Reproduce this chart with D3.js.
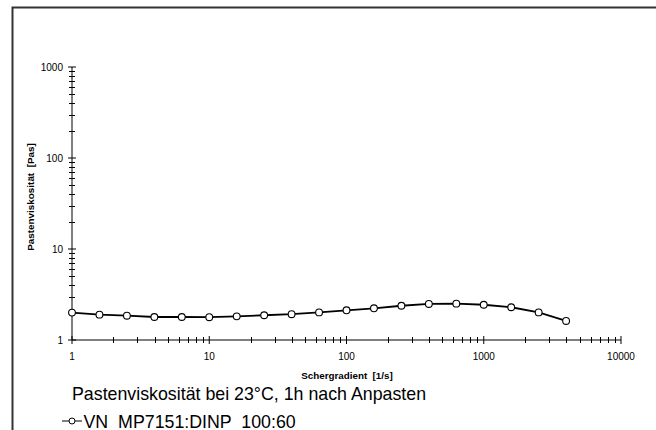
<!DOCTYPE html>
<html><head><meta charset="utf-8">
<script src="https://cdn.jsdelivr.net/npm/d3@7/dist/d3.min.js"></script>
<style>body{margin:0;background:#fff}svg{display:block;font-family:"Liberation Sans",Arial,sans-serif}text{white-space:pre}</style>
</head><body><svg id="c" width="656" height="430"></svg>
<script>
const shearRates = [1, 1.585, 2.512, 3.981, 6.31, 10, 15.85, 25.12, 39.81, 63.1, 100, 158.5, 251.2, 398.1, 631, 1000, 1585, 2512, 3981];
const viscosity = [2.0, 1.90, 1.85, 1.79, 1.79, 1.78, 1.82, 1.87, 1.92, 2.01, 2.12, 2.23, 2.38, 2.49, 2.51, 2.44, 2.29, 2.01, 1.62];
const xTicks = [1, 10, 100, 1000, 10000];
const yTicks = [1, 10, 100, 1000];
const seriesName = "VN  MP7151:DINP  100:60";
const title = "Pastenviskosität bei 23°C, 1h nach Anpasten";
const xLabel = "Schergradient  [1/s]";
const yLabel = "Pastenviskosität  [Pas]";

const svg = d3.select("#c");
svg.append("path").attr("d","M12.5,430 V7.5 H656").attr("fill","none").attr("stroke","#333").attr("stroke-width",2);

const x = d3.scaleLog().domain([1,10000]).range([72,621]);
const y = d3.scaleLog().domain([1,1000]).range([340,67]);

function minors(lo,hi){const a=[];for(let d=lo;d<hi;d*=10)for(let k=2;k<=9;k++)a.push(d*k);return a;}

const g = svg.append("g").attr("stroke","#000").attr("stroke-width",1);
g.append("line").attr("x1",x(1)).attr("x2",x(10000)).attr("y1",340).attr("y2",340);
xTicks.forEach(v=>g.append("line").attr("x1",x(v)).attr("x2",x(v)).attr("y1",336).attr("y2",344));
minors(1,10000).forEach(v=>g.append("line").attr("x1",Math.round(x(v))+0.5).attr("x2",Math.round(x(v))+0.5).attr("y1",337).attr("y2",343));
g.append("line").attr("x1",72).attr("x2",72).attr("y1",y(1)).attr("y2",y(1000));
yTicks.forEach(v=>g.append("line").attr("x1",68).attr("x2",76).attr("y1",y(v)).attr("y2",y(v)));
minors(1,1000).forEach(v=>g.append("line").attr("x1",69).attr("x2",75).attr("y1",Math.round(y(v))+0.5).attr("y2",Math.round(y(v))+0.5));

svg.selectAll(".xt").data(xTicks).enter().append("text").attr("x",d=>x(d)).attr("y",360)
  .attr("text-anchor","middle").attr("font-size",10).text(d=>d);
svg.selectAll(".yt").data(yTicks).enter().append("text").attr("x",63).attr("y",d=>y(d)+3.5)
  .attr("text-anchor","end").attr("font-size",10).text(d=>d);

svg.append("text").attr("x",347).attr("y",379).attr("text-anchor","middle").attr("font-size",9.8).attr("font-weight","bold").text(xLabel);
svg.append("text").attr("transform","translate(34,197) rotate(-90)").attr("text-anchor","middle").attr("font-size",9.9).attr("font-weight","bold").text(yLabel);

const line = d3.line().x((d,i)=>x(shearRates[i])).y(d=>y(d));
svg.append("path").datum(viscosity).attr("d",line).attr("fill","none").attr("stroke","#000").attr("stroke-width",1.8);
svg.selectAll(".pt").data(viscosity).enter().append("circle").attr("cx",(d,i)=>x(shearRates[i])).attr("cy",d=>y(d))
  .attr("r",3.4).attr("fill","#fff").attr("stroke","#000").attr("stroke-width",1.1);

svg.append("text").attr("x",72).attr("y",400).attr("font-size",17.8).text(title);
svg.append("line").attr("x1",62).attr("x2",82).attr("y1",421).attr("y2",421).attr("stroke","#000").attr("stroke-width",1);
svg.append("circle").attr("cx",72).attr("cy",421).attr("r",3).attr("fill","#fff").attr("stroke","#000");
svg.append("text").attr("x",83.5).attr("y",427.5).attr("font-size",17.8).text(seriesName);
</script></body></html>
